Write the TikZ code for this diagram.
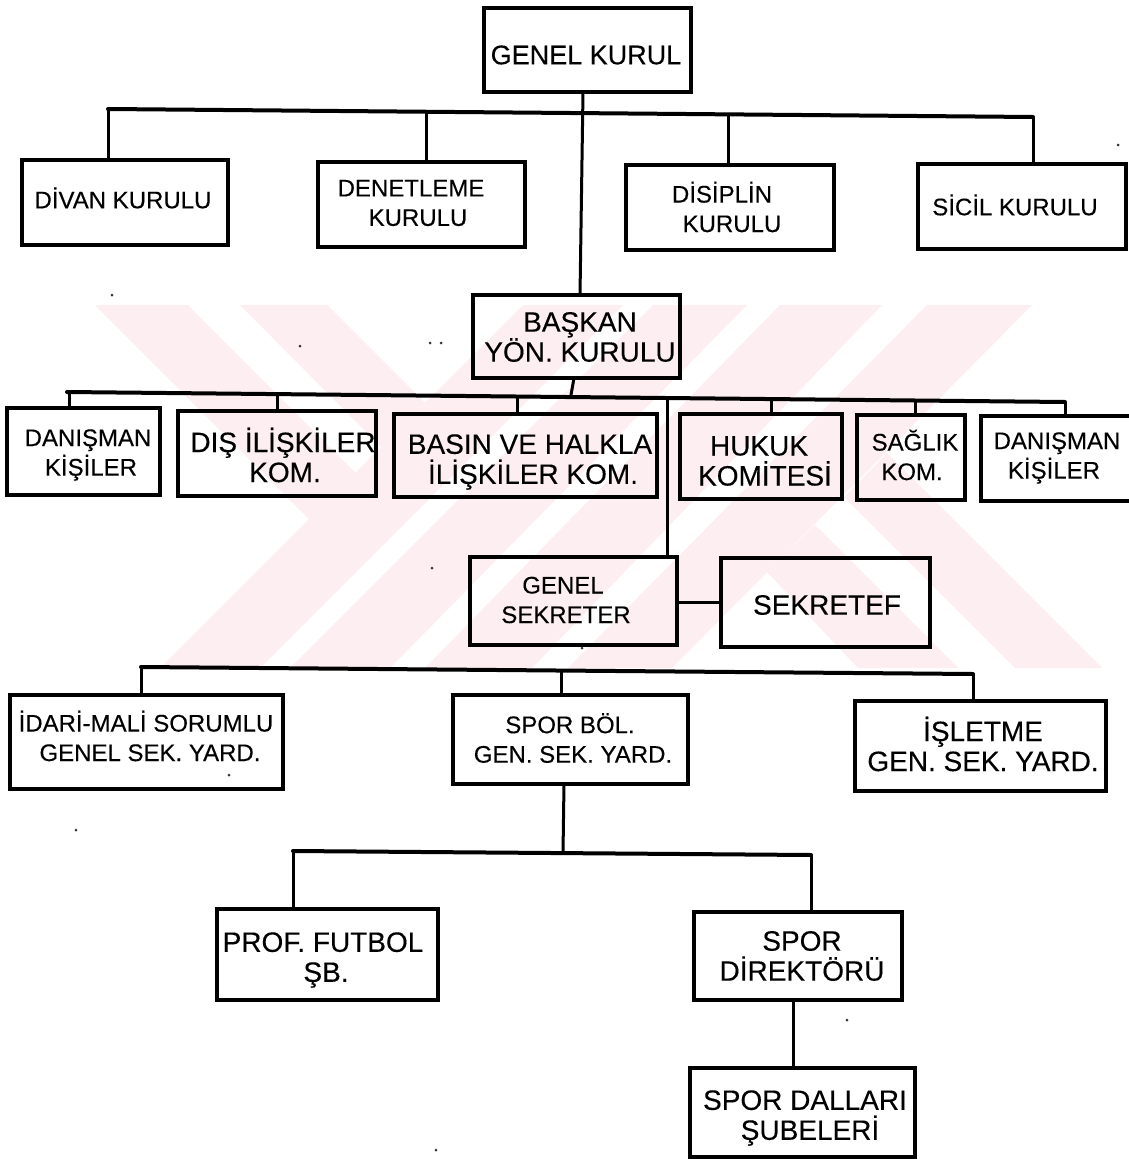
\documentclass[tikz,border=0pt]{standalone}
\usepackage{fontspec}
\setmainfont[FakeBold=0.25,AutoFakeBold=false]{Liberation Sans}
\tikzset{
  orgbox/.style={draw=black,line width=3.2pt,inner sep=0pt,outer sep=0pt},
  labbig/.style={inner sep=0pt,align=center,text=black,font=\fontsize{28}{30}\selectfont},
  labmid/.style={inner sep=0pt,align=center,text=black,font=\fontsize{24}{29.5}\selectfont},
  conn/.style={draw=black,line width=3pt},
  busline/.style={draw=black,line width=4pt,line cap=round},
  wmark/.style={fill=wmpink},
  speck/.style={fill=black!80}
}
\definecolor{wmpink}{HTML}{FDEEF1}
\newcommand{\orgbox}[5]{%
  \node[orgbox,minimum width={(#4-#2)*1pt},minimum height={(#5-#3)*1pt}] (#1) at ({(#2+#4)/2},{(#3+#5)/2}) {};}
\begin{document}
\begin{tikzpicture}[x=1pt,y=-1pt]
\fill[white] (0,0) rectangle (1129,1159);
\useasboundingbox (0,0) rectangle (1129,1159);
% watermark
\fill[wmark] (523,305)--(623,305)--(260,668)--(160,668)--cycle;
\fill[wmark] (653,305)--(747,305)--(390,668)--(290,668)--cycle;
\fill[wmark] (780,305)--(882,305)--(532,668)--(425,668)--cycle;
\fill[wmark] (927,305)--(1032,305)--(672,668)--(568,668)--cycle;
\fill[wmark] (95,305)--(188,305)--(356,473)--(309,519)--cycle;
\fill[wmark] (240,305)--(327,305)--(425,403)--(381,447)--cycle;
\fill[wmark] (767,572)--(815,525)--(958,668)--(858,668)--cycle;
\fill[wmark] (844,497)--(887,453)--(1102,668)--(1015,668)--cycle;
% specks
\foreach \sx/\sy in {112/295,300/346,430/343,441/343,432/568,76/830,847/1020,436/1150,1118/145,582/648,229/775}
  \fill[speck] (\sx,\sy) circle (1.5pt);
% boxes
\orgbox{genelkurul}{484}{8}{691}{92}
\orgbox{divan}{22}{160}{228}{245}
\orgbox{denetleme}{318}{162}{525}{247}
\orgbox{disiplin}{626}{165}{834}{250}
\orgbox{sicil}{918}{164}{1126}{249}
\orgbox{baskan}{473}{295}{680}{378}
\orgbox{danisl}{7}{408}{160}{495}
\orgbox{dis}{178}{411}{376}{496}
\orgbox{basin}{394}{414}{657}{497}
\orgbox{hukuk}{680}{414}{842}{499}
\orgbox{saglik}{857}{415}{965}{500}
\orgbox{danisr}{981}{416}{1133}{501}
\orgbox{gensek}{470}{557}{677}{645}
\orgbox{sekretef}{721}{558}{930}{647}
\orgbox{idari}{10}{695}{283}{789}
\orgbox{sporbol}{453}{695}{688}{784}
\orgbox{isletme}{855}{701}{1106}{791}
\orgbox{prof}{217}{909}{438}{1000}
\orgbox{spordir}{694}{912}{902}{1000}
\orgbox{spordal}{690}{1068}{915}{1157}
% labels
\node[labbig,font=\fontsize{27}{30}\selectfont] (l1) at (586,55) {GENEL KURUL};
\node[labmid] (l2) at (123,198) {DİVAN KURULU};
\node[labmid] (l3) at (414,203) {DENETLEME\hspace*{6pt}\\\hspace*{8pt}KURULU};
\node[labmid] (l4) at (727,207) {DİSİPLİN\hspace*{10pt}\\\hspace*{10pt}KURULU};
\node[labmid] (l5) at (1015,205) {SİCİL KURULU};
\node[labbig] (l6) at (580,337) {BAŞKAN\\YÖN. KURULU};
\node[labmid] (l7) at (88,455) {DANIŞMAN\\\hspace*{6pt}KİŞİLER};
\node[labbig] (l8) at (283,455) {DIŞ İLİŞKİLER\\\hspace*{4pt}KOM.};
\node[labbig] (l9) at (530,462) {BASIN VE HALKLA\\\hspace*{6pt}İLİŞKİLER KOM.};
\node[labbig] (l10) at (765,461) {HUKUK\hspace*{12pt}\\KOMİTESİ};
\node[labmid] (l11) at (915,455) {SAĞLIK\\KOM.\hspace*{6pt}};
\node[labmid] (l12) at (1057,458) {DANIŞMAN\\KİŞİLER\hspace*{6pt}};
\node[labmid] (l13) at (566,600) {GENEL\hspace*{6pt}\\SEKRETER};
\node[labbig] (l14) at (827,605) {SEKRETEF};
\node[labmid] (l15) at (146,736) {İDARİ-MALİ SORUMLU\\\hspace*{8pt}GENEL SEK. YARD.};
\node[labmid] (l16) at (573,738) {SPOR BÖL.\hspace*{6pt}\\GEN. SEK. YARD.};
\node[labbig] (l17) at (983,744) {İŞLETME\\GEN. SEK. YARD.};
\node[labbig] (l18) at (323,960) {PROF. FUTBOL\\\hspace*{6pt}ŞB.};
\node[labbig] (l19) at (802,956) {SPOR\\DİREKTÖRÜ};
\node[labbig] (l20) at (805,1118) {SPOR DALLARI\\\hspace*{10pt}ŞUBELERİ};
% bus 1
\coordinate (b1l) at (108,109);
\coordinate (b1r) at (1033,117);
\coordinate (b1a) at (426,112);
\coordinate (b1b) at (728,115);
\coordinate (g1) at (583,92);
\coordinate (g2) at (580,295);
\draw[busline] (b1l) -- (b1r);
\draw[conn] (g1) -- (g2);
\draw[conn] (b1l) -- (b1l |- divan.north);
\draw[conn] (b1a) -- (b1a |- denetleme.north);
\draw[conn] (b1b) -- (b1b |- disiplin.north);
\draw[conn] (b1r) -- (b1r |- sicil.north);
% bus 2
\coordinate (b2l) at (67,392);
\coordinate (b2r) at (1065,402);
\coordinate (b2k) at (69,392);
\coordinate (b2a) at (277,394);
\coordinate (b2b) at (517,396);
\coordinate (b2c) at (667,397);
\coordinate (b2d) at (771,398);
\coordinate (b2e) at (915,400);
\coordinate (b2f) at (571,395);
\coordinate (b2g) at (574,378);
\draw[busline] (b2l) -- (b2r);
\draw[conn] (b2g) -- (b2f);
\draw[conn] (b2k) -- (b2k |- danisl.north);
\draw[conn] (b2a) -- (b2a |- dis.north);
\draw[conn] (b2b) -- (b2b |- basin.north);
\draw[conn] (b2c) -- (b2c |- gensek.north);
\draw[conn] (b2d) -- (b2d |- hukuk.north);
\draw[conn] (b2e) -- (b2e |- saglik.north);
\draw[conn] (b2r) -- (b2r |- danisr.north);
\coordinate (sk) at (0,602);
\draw[conn] (gensek.east |- sk) -- (sekretef.west |- sk);
% bus 3
\coordinate (b3l) at (141,667);
\coordinate (b3r) at (973,674);
\coordinate (b3a) at (561,671);
\draw[busline] (b3l) -- (b3r);
\draw[conn] (b3l) -- (b3l |- idari.north);
\draw[conn] (b3a) -- (b3a |- sporbol.north);
\draw[conn] (b3r) -- (b3r |- isletme.north);
% bus 4
\coordinate (b4l) at (293,851);
\coordinate (b4r) at (811,855);
\coordinate (b4a) at (563,853);
\coordinate (s1) at (564,784);
\draw[busline] (b4l) -- (b4r);
\draw[conn] (s1) -- (b4a);
\draw[conn] (b4l) -- (b4l |- prof.north);
\draw[conn] (b4r) -- (b4r |- spordir.north);
\coordinate (d1) at (793,1000);
\draw[conn] (d1) -- (d1 |- spordal.north);
\end{tikzpicture}
\end{document}
